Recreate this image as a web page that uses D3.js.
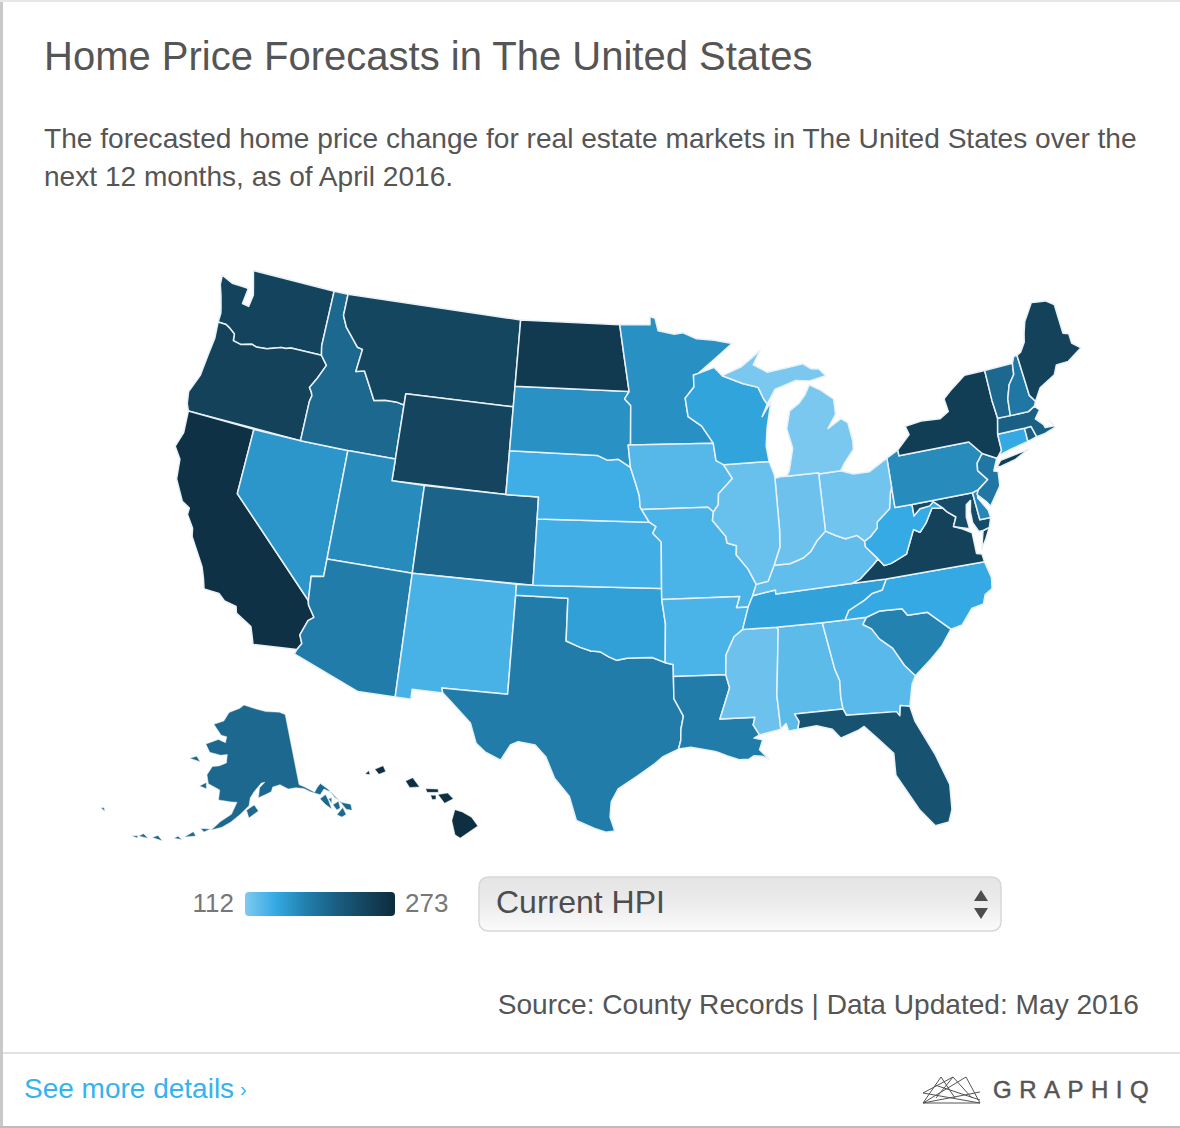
<!DOCTYPE html>
<html>
<head>
<meta charset="utf-8">
<script src="https://d3js.org/d3.v7.min.js"></script>
<style>
	html, body { margin: 0; padding: 0; background: #fff; }
	svg { display: block; }
	text { font-family: "Liberation Sans", Arial, sans-serif; }
</style>
</head>
<body>
<svg id="chart" width="1180" height="1128"></svg>
<script>
// outlines are [lon, lat] rings
var WA = [[[-124.7,48.38],[-123.9,48.16],[-123.1,48.15],[-122.75,48.14],[-122.85,47.4],[-122.4,47.35],[-122.3,47.9],[-122.5,48.4],[-122.76,49],[-117.03,49],[-117.04,46.42],[-116.92,46],[-118.98,46],[-119.3,45.93],[-119.6,45.92],[-120.5,45.7],[-121.2,45.65],[-121.5,45.72],[-122.2,45.57],[-122.75,45.65],[-122.8,45.95],[-123.2,46.15],[-123.5,46.26],[-124.05,46.27],[-124.05,46.7],[-124.15,46.95],[-124.4,47.5],[-124.65,47.95]]];
var OR = [[[-124.05,46.27],[-123.5,46.26],[-123.2,46.15],[-122.8,45.95],[-122.75,45.65],[-122.2,45.57],[-121.5,45.72],[-121.2,45.65],[-120.5,45.7],[-119.6,45.92],[-119.3,45.93],[-118.98,46],[-116.92,46],[-116.46,45.6],[-116.85,44.95],[-117.22,44.45],[-117.03,44.25],[-116.95,44.1],[-117.03,43.83],[-117.03,42],[-124.21,42],[-124.41,42.3],[-124.55,42.84],[-124.15,43.7],[-124.05,44.7],[-123.95,45.5]]];
var CA = [[[-124.21,42],[-120,42],[-120,39],[-114.63,35],[-114.57,34.8],[-114.14,34.3],[-114.43,34.1],[-114.72,33.4],[-114.52,33.03],[-114.72,32.72],[-117.12,32.53],[-117.25,32.85],[-117.45,33.3],[-118.4,33.75],[-118.5,34.03],[-119.2,34.15],[-119.6,34.42],[-120.47,34.45],[-120.65,34.9],[-120.9,35.4],[-121.9,36.6],[-122,36.96],[-122.5,37.5],[-122.5,37.8],[-123,38],[-123.7,38.9],[-123.85,39.8],[-124.35,40.3],[-124.1,41]]];
var NV = [[[-120,42],[-117.03,42],[-114.04,42],[-114.04,37],[-114.04,36.2],[-114.74,36.1],[-114.63,35],[-120,39]]];
var ID = [[[-117.03,49],[-116.05,49],[-116.05,48],[-115.7,47.5],[-114.7,46.7],[-114.35,46.65],[-114.5,45.6],[-113.95,45.7],[-113.45,45.05],[-113,44.45],[-112.3,44.55],[-111.5,44.55],[-111.05,44.48],[-111.05,42],[-114.04,42],[-117.03,42],[-117.03,43.83],[-116.95,44.1],[-117.03,44.25],[-117.22,44.45],[-116.85,44.95],[-116.46,45.6],[-116.92,46],[-117.04,46.42]]];
var MT = [[[-116.05,49],[-104.05,49],[-104.05,45.94],[-104.05,45],[-111.05,45],[-111.05,44.48],[-111.5,44.55],[-112.3,44.55],[-113,44.45],[-113.45,45.05],[-113.95,45.7],[-114.5,45.6],[-114.35,46.65],[-114.7,46.7],[-115.7,47.5],[-116.05,48]]];
var WY = [[[-111.05,45],[-104.05,45],[-104.05,43],[-104.05,41],[-111.05,41],[-111.05,42]]];
var UT = [[[-114.04,42],[-111.05,42],[-111.05,41],[-109.05,41],[-109.05,37],[-114.04,37]]];
var CO = [[[-109.05,41],[-104.05,41],[-102.05,41],[-102.05,40],[-102.05,37],[-109.05,37]]];
var AZ = [[[-114.74,36.1],[-114.04,36.2],[-114.04,37],[-109.05,37],[-109.05,31.33],[-111.07,31.33],[-114.81,32.5],[-114.72,32.72],[-114.52,33.03],[-114.72,33.4],[-114.43,34.1],[-114.14,34.3],[-114.57,34.8],[-114.63,35]]];
var NM = [[[-109.05,37],[-103,37],[-103,36.5],[-103.04,32],[-106.62,32],[-106.53,31.78],[-108.2,31.78],[-108.2,31.33],[-109.05,31.33]]];
var TX = [[[-103,36.5],[-100,36.5],[-100,34.56],[-99.2,34.3],[-98.6,34.15],[-98.1,34.13],[-97.6,33.9],[-97.15,33.75],[-96.6,33.85],[-95.9,33.87],[-95.2,33.88],[-94.48,33.64],[-94.04,33.55],[-94.04,33],[-94.04,32],[-93.55,31.2],[-93.7,30.6],[-93.72,30.1],[-93.85,29.7],[-94.7,29.35],[-95.1,29.05],[-96,28.5],[-97,27.9],[-97.35,27.3],[-97.4,26.6],[-97.15,25.96],[-97.6,25.9],[-98.2,26.07],[-99.1,26.4],[-99.5,27.5],[-100.3,28.3],[-100.8,29.25],[-101.4,29.77],[-102.3,29.88],[-102.7,29.7],[-103.15,28.98],[-104,29.3],[-104.5,29.65],[-104.9,30.55],[-106,31.4],[-106.53,31.78],[-106.62,32],[-103.04,32]]];
var OK = [[[-103,37],[-102.05,37],[-94.62,37],[-94.62,36.5],[-94.43,35.4],[-94.48,33.64],[-95.2,33.88],[-95.9,33.87],[-96.6,33.85],[-97.15,33.75],[-97.6,33.9],[-98.1,34.13],[-98.6,34.15],[-99.2,34.3],[-100,34.56],[-100,36.5],[-103,36.5]]];
var KS = [[[-102.05,40],[-95.3,40],[-94.9,39.8],[-95.1,39.5],[-94.6,39.1],[-94.62,37],[-102.05,37]]];
var NE = [[[-104.05,43],[-98.5,43],[-97.9,42.8],[-97.2,42.85],[-96.45,42.49],[-96.1,41.7],[-95.9,41.2],[-95.85,40.7],[-95.77,40.58],[-95.3,40],[-102.05,40],[-102.05,41],[-104.05,41]]];
var SD = [[[-104.05,45.94],[-96.56,45.94],[-96.85,45.6],[-96.45,45.3],[-96.45,43.5],[-96.6,43.5],[-96.45,42.49],[-97.2,42.85],[-97.9,42.8],[-98.5,43],[-104.05,43]]];
var ND = [[[-104.05,49],[-97.23,49],[-96.9,47.5],[-96.56,45.94],[-104.05,45.94]]];
var MN = [[[-97.23,49],[-95.15,49],[-95.15,49.38],[-94.8,49.3],[-94.6,48.72],[-93.5,48.55],[-92.9,48.6],[-92,48.3],[-90.8,48.2],[-89.6,48],[-90.9,47.3],[-92,46.7],[-92.3,46.65],[-92.3,46.1],[-92.9,45.6],[-92.75,44.75],[-91.9,44.3],[-91.22,43.5],[-96.45,43.5],[-96.45,45.3],[-96.85,45.6],[-96.56,45.94],[-96.9,47.5]]];
var IA = [[[-96.45,43.5],[-91.22,43.5],[-91.1,42.7],[-90.65,42.5],[-90.15,41.85],[-91.05,41.2],[-91.1,40.7],[-91.42,40.38],[-91.73,40.61],[-95.77,40.58],[-95.85,40.7],[-95.9,41.2],[-96.1,41.7],[-96.45,42.49],[-96.6,43.5]]];
var MO = [[[-95.77,40.58],[-91.73,40.61],[-91.42,40.38],[-91.5,40],[-90.75,39.25],[-90.7,38.95],[-90.15,38.8],[-90.2,38.4],[-89.55,37.7],[-89.15,37],[-89.4,36.5],[-89.7,36],[-90.37,36],[-90.15,36.5],[-94.62,36.5],[-94.62,37],[-94.6,39.1],[-95.1,39.5],[-94.9,39.8],[-95.3,40]]];
var AR = [[[-94.62,36.5],[-90.15,36.5],[-90.37,36],[-89.7,36],[-90.1,35],[-90.6,34.7],[-91.1,33.9],[-91.17,33],[-94.04,33],[-94.04,33.55],[-94.48,33.64],[-94.43,35.4]]];
var LA = [[[-94.04,33],[-91.17,33],[-91,32.4],[-91.6,31],[-89.73,31],[-89.85,30.65],[-89.55,30.18],[-89.85,30.05],[-89.4,29.95],[-89.6,29.5],[-89.15,29.05],[-89.5,29.2],[-89.9,29.25],[-90.2,29.1],[-90.7,29.1],[-91.3,29.3],[-91.8,29.5],[-92,29.55],[-93.2,29.77],[-93.85,29.7],[-93.72,30.1],[-93.7,30.6],[-93.55,31.2],[-94.04,32]]];
var MS = [[[-90.1,35],[-88.2,35],[-88.1,34.9],[-88.47,31.9],[-88.4,30.37],[-89.55,30.18],[-89.85,30.65],[-89.73,31],[-91.6,31],[-91,32.4],[-91.17,33],[-91.1,33.9],[-90.6,34.7]]];
var AL = [[[-88.2,35],[-85.6,35],[-85.2,32.85],[-85,32.3],[-85.05,31.55],[-85,31],[-87.6,31],[-87.4,30.65],[-87.5,30.3],[-88,30.25],[-88.1,30.6],[-88.4,30.37],[-88.47,31.9],[-88.1,34.9]]];
var GA = [[[-85.6,35],[-84.32,35],[-83.1,35],[-83.35,34.7],[-82.9,34.45],[-82.55,33.95],[-81.9,33.45],[-81.4,32.6],[-80.9,32.05],[-81.15,31.7],[-81.45,30.72],[-81.95,30.82],[-82.05,30.36],[-82.2,30.57],[-84.86,30.7],[-85,31],[-85.05,31.55],[-85,32.3],[-85.2,32.85]]];
var FL = [[[-87.6,31],[-85,31],[-84.86,30.7],[-82.2,30.57],[-82.05,30.36],[-81.95,30.82],[-81.45,30.72],[-81.3,30],[-80.55,28.4],[-80.05,26.9],[-80.15,25.75],[-80.4,25.2],[-81.1,25.13],[-81.75,25.95],[-82.15,26.7],[-82.7,27.7],[-82.65,28.7],[-83.4,29.5],[-84,30.1],[-84.35,29.95],[-85.3,29.7],[-85.7,30.15],[-86.5,30.38],[-87.5,30.3],[-87.4,30.65]]];
var SC = [[[-83.35,34.7],[-83.1,35],[-82.3,35.2],[-81.05,35.15],[-80.8,34.82],[-79.67,34.8],[-78.55,33.86],[-79.2,33.2],[-79.9,32.7],[-80.9,32.05],[-81.4,32.6],[-81.9,33.45],[-82.55,33.95],[-82.9,34.45]]];
var NC = [[[-84.32,35],[-83.1,35],[-82.3,35.2],[-81.05,35.15],[-80.8,34.82],[-79.67,34.8],[-78.55,33.86],[-77.9,33.95],[-77.2,34.6],[-76.5,34.7],[-76.3,35.1],[-75.85,35.3],[-75.75,35.8],[-75.95,36.55],[-81.68,36.59],[-82,36.12],[-82.6,36.03],[-83.1,35.77],[-84.05,35.4]]];
var TN = [[[-90.1,35],[-88.2,35],[-85.6,35],[-84.32,35],[-84.05,35.4],[-83.1,35.77],[-82.6,36.03],[-82,36.12],[-81.68,36.59],[-83.68,36.6],[-88.07,36.5],[-88.07,36.68],[-89.4,36.5],[-89.7,36]]];
var KY = [[[-89.4,36.5],[-88.07,36.68],[-88.07,36.5],[-83.68,36.6],[-83.15,36.75],[-82.3,37.3],[-81.97,37.54],[-82.6,38.17],[-82.6,38.42],[-83,38.73],[-83.7,38.65],[-84.25,38.85],[-84.82,39.1],[-85.4,38.7],[-85.8,38.27],[-86.3,38],[-87.1,37.8],[-88.03,37.8],[-88.45,37.1],[-89.15,37]]];
var VA = [[[-83.68,36.6],[-81.68,36.59],[-75.95,36.55],[-76,36.92],[-76.3,37],[-76.3,37.55],[-76.3,37.95],[-76.9,38.25],[-77.3,38.4],[-77.05,38.8],[-77.5,39.1],[-77.72,39.32],[-78.35,39.4],[-78.87,38.77],[-79.3,38.42],[-79.65,38.6],[-80.3,37.55],[-81.25,37.25],[-81.68,37.2],[-81.97,37.54],[-82.3,37.3],[-83.15,36.75]],
	[[-75.95,37.15],[-75.65,37.95],[-75.25,38.03],[-75.6,37.55]]];
var WV = [[[-82.6,38.17],[-81.97,37.54],[-81.68,37.2],[-81.25,37.25],[-80.3,37.55],[-79.65,38.6],[-79.3,38.42],[-78.87,38.77],[-78.35,39.4],[-77.72,39.32],[-78.2,39.68],[-78.45,39.52],[-79.06,39.47],[-79.48,39.2],[-79.48,39.72],[-80.52,39.72],[-80.52,40.64],[-80.65,40.4],[-80.85,39.7],[-81.7,39.2],[-81.75,38.93],[-82.2,38.6],[-82.6,38.42]]];
var MD = [[[-79.48,39.72],[-75.79,39.72],[-75.7,38.46],[-75.05,38.45],[-75.25,38.03],[-75.65,37.95],[-75.9,37.95],[-76.15,38.4],[-76.15,38.9],[-76,39.4],[-76.3,39.25],[-76.45,38.7],[-76.4,38.15],[-76.95,38.3],[-77.3,38.4],[-77.05,38.8],[-77.5,39.1],[-77.72,39.32],[-78.2,39.68],[-78.45,39.52],[-79.06,39.47],[-79.48,39.2]]];
var DE = [[[-75.79,39.72],[-75.4,39.8],[-75.55,39.45],[-75.1,38.8],[-75.05,38.45],[-75.7,38.46]]];
var PA = [[[-80.52,41.98],[-79.76,42.27],[-79.76,42],[-75.35,42],[-74.7,41.36],[-75.13,40.98],[-75.2,40.65],[-74.72,40.15],[-75.4,39.8],[-75.79,39.72],[-79.48,39.72],[-80.52,39.72],[-80.52,40.64]]];
var NJ = [[[-74.7,41.36],[-73.9,41],[-74.25,40.47],[-74,40.4],[-74.1,39.75],[-74.9,38.95],[-75.1,39.2],[-75.55,39.6],[-75.4,39.8],[-74.72,40.15],[-75.2,40.65],[-75.13,40.98]]];
var NY = [[[-79.76,42.27],[-79.76,42],[-75.35,42],[-74.7,41.36],[-73.9,41],[-73.73,41.1],[-73.5,41.3],[-73.5,42.05],[-73.27,42.75],[-73.35,43.6],[-73.35,45],[-74.7,45],[-75.8,44.45],[-76.3,44.15],[-76.2,43.55],[-76.8,43.3],[-78,43.37],[-79.05,43.27],[-78.9,42.87]],
	[[-74.03,40.6],[-73.75,40.6],[-72.8,40.75],[-71.9,41.05],[-72.6,40.98],[-73.7,40.87]]];
var CT = [[[-73.73,41.1],[-73.5,41.3],[-73.5,42.05],[-71.8,42.02],[-71.8,41.4],[-72.9,41.25]]];
var RI = [[[-71.8,42.02],[-71.38,42.02],[-71.2,41.5],[-71.8,41.4]]];
var MA = [[[-73.5,42.05],[-73.27,42.75],[-72.46,42.73],[-71.3,42.7],[-70.85,42.87],[-70.6,42.65],[-71,42.3],[-70.6,41.95],[-70.55,41.8],[-70,41.78],[-70.2,42.07],[-69.95,41.7],[-70.65,41.55],[-71.2,41.5],[-71.38,42.02],[-71.8,42.02]]];
var VT = [[[-73.35,45],[-71.5,45.01],[-71.6,44.5],[-72.05,44.1],[-72.35,43.5],[-72.46,42.73],[-73.27,42.75],[-73.35,43.6]]];
var NH = [[[-71.5,45.01],[-71.3,45.3],[-71.08,45.3],[-70.98,43.4],[-70.7,43.07],[-70.85,42.87],[-71.3,42.7],[-72.46,42.73],[-72.35,43.5],[-72.05,44.1],[-71.6,44.5]]];
var ME = [[[-71.08,45.3],[-70.8,45.4],[-70.4,45.8],[-70.25,46.2],[-70,46.7],[-69.23,47.46],[-69,47.43],[-68.3,47.35],[-67.8,47.07],[-67.8,45.7],[-67.45,45.6],[-67.45,45.15],[-66.97,44.82],[-68,44.4],[-68.8,44.4],[-69.1,44],[-70.2,43.6],[-70.7,43.07],[-70.98,43.4]]];
var OH = [[[-84.82,41.7],[-83.45,41.73],[-82.7,41.5],[-81.7,41.5],[-80.52,41.98],[-80.52,40.64],[-80.65,40.4],[-80.85,39.7],[-81.7,39.2],[-81.75,38.93],[-82.2,38.6],[-82.6,38.42],[-83,38.73],[-83.7,38.65],[-84.25,38.85],[-84.82,39.1]]];
var IN = [[[-87.53,41.71],[-87.2,41.76],[-86.8,41.76],[-84.82,41.76],[-84.82,39.1],[-85.4,38.7],[-85.8,38.27],[-86.3,38],[-87.1,37.8],[-88.03,37.8],[-87.6,38.6],[-87.53,39.35]]];
var IL = [[[-90.65,42.5],[-87.8,42.5],[-87.55,41.9],[-87.53,41.71],[-87.53,39.35],[-87.6,38.6],[-88.03,37.8],[-88.45,37.1],[-89.15,37],[-89.55,37.7],[-90.2,38.4],[-90.15,38.8],[-90.7,38.95],[-90.75,39.25],[-91.5,40],[-91.42,40.38],[-91.1,40.7],[-91.05,41.2],[-90.15,41.85]]];
var WI = [[[-92,46.7],[-90.9,46.95],[-90.4,46.55],[-89.1,46.13],[-88.1,45.9],[-87.8,45.35],[-87.6,45.1],[-88,44.55],[-87.35,45.2],[-87.75,44],[-87.9,43.2],[-87.8,42.5],[-90.65,42.5],[-91.1,42.7],[-91.22,43.5],[-91.9,44.3],[-92.75,44.75],[-92.9,45.6],[-92.3,46.1],[-92.3,46.65]]];
var MI = [[[-86.8,41.76],[-84.82,41.76],[-84.82,41.7],[-83.45,41.73],[-83.15,42.05],[-82.5,42.6],[-82.45,43],[-82.6,43.85],[-83,44.07],[-83.9,43.7],[-83.3,44.3],[-83.3,45],[-84.1,45.5],[-84.75,45.78],[-85.1,45.35],[-85.55,45],[-86.2,44.7],[-86.5,43.9],[-86.25,43],[-86.6,42]],
	[[-90.4,46.55],[-89.1,46.9],[-88.4,47.25],[-87.75,47.6],[-88.3,46.95],[-87.4,46.55],[-86.1,46.67],[-85,46.77],[-84.5,46.5],[-84,46.45],[-83.6,46.1],[-84.7,45.95],[-85.6,46.05],[-86.5,45.85],[-87,45.75],[-87.6,45.1],[-87.8,45.35],[-88.1,45.9],[-89.1,46.13]]];
var AK = [[[-141,69.65],[-141,60.3],[-139.8,59.9],[-137.5,58.9],[-136.5,59.45],[-135.5,59.8],[-134,58.8],[-133,57.5],[-131.8,56.6],[-130,56],[-130.2,55.2],[-131.4,55.6],[-132.3,57],[-133.5,58.3],[-135,59],[-136.3,58.4],[-138.5,59.1],[-140,59.7],[-142,60],[-144,60],[-146,60.7],[-148,60.5],[-148.5,59.9],[-150,59.6],[-151.9,59.2],[-151.5,60.5],[-150,61.2],[-151,61.1],[-153,60],[-154,59.2],[-154.3,58.2],[-156.5,57],[-158.5,56],[-160.5,55.2],[-162.8,54.7],[-161,55.9],[-158.5,57],[-157.3,58.6],[-158.7,58.6],[-162,58.7],[-162,60],[-165.2,60.6],[-166,61.7],[-164.9,62.9],[-163,63.1],[-161,63.6],[-161,64.7],[-163,64.5],[-166.4,64.65],[-168.1,65.6],[-164.4,66.5],[-162,66.2],[-161.8,67],[-163.7,67.1],[-166.8,68.35],[-163.5,69],[-162,70.2],[-158,70.9],[-156.5,71.35],[-152,70.85],[-148,70.4],[-143,70.1]],
	[[-154.3,56.6],[-152,57.5],[-153,58.3],[-154.9,57.6]],
	[[-171.8,63.3],[-168.6,63.2],[-170,63.8]],
	[[-167.4,60.1],[-165.5,59.9],[-165.8,60.7]],
	[[-136.6,57.9],[-135,58.25],[-134.7,57.3],[-134.6,56.2],[-135.7,57]],
	[[-134.6,57.6],[-133.8,57.6],[-134.2,56.9]],
	[[-134,56.7],[-132.5,56.9],[-132.6,56],[-133.5,55.9]],
	[[-133.8,55.3],[-132,55.95],[-131.8,54.95],[-132.9,54.8]],
	[[-168.4,53.2],[-166,53.6],[-166.7,54.1]],
	[[-165.2,54.7],[-163,54.8],[-164.4,54.3]],
	[[-170.5,52.7],[-168.8,52.8],[-169.8,53.1]],
	[[-175,52],[-172.8,52],[-174,52.5]],
	[[-177.8,51.6],[-175.8,51.75],[-177,52.1]],
	[[-179.2,51.3],[-178,51.6],[-177.9,51.3]],
	[[172.4,52.9],[173.5,52.75],[173,53.1]]];
var HI = [[[-155.9,20.25],[-155.55,20.15],[-155.1,19.9],[-154.8,19.5],[-155.65,18.95],[-155.9,19.1],[-156.05,19.75]],
	[[-156.72,20.95],[-156.25,21.02],[-155.98,20.75],[-156.4,20.55]],
	[[-158.3,21.57],[-157.95,21.72],[-157.62,21.3],[-158.1,21.27]],
	[[-159.8,22.1],[-159.4,22.26],[-159.27,22],[-159.6,21.87]],
	[[-157.32,21.22],[-156.72,21.2],[-156.7,21.05],[-157.25,21.05]],
	[[-157.08,20.92],[-156.82,20.92],[-156.82,20.73],[-157,20.72]],
	[[-160.27,21.88],[-160.1,22.03],[-160.03,21.85]]];

var stateNames = ["WA","OR","CA","NV","ID","MT","WY","UT","CO","AZ","NM","TX","OK","KS","NE","SD","ND","MN","IA","MO","AR","LA","MS","AL","GA","FL","SC","NC","TN","KY","VA","WV","MD","DE","PA","NJ","NY","CT","RI","MA","VT","NH","ME","OH","IN","IL","WI","MI","AK","HI"];
var stateShapes = [WA,OR,CA,NV,ID,MT,WY,UT,CO,AZ,NM,TX,OK,KS,NE,SD,ND,MN,IA,MO,AR,LA,MS,AL,GA,FL,SC,NC,TN,KY,VA,WV,MD,DE,PA,NJ,NY,CT,RI,MA,VT,NH,ME,OH,IN,IL,WI,MI,AK,HI];
var stateValues = [243,245,265,160,200,240,242,168,205,180,136,180,152,139,140,163,255,164,130,135,135,180,120,127,129,225,175,145,150,125,245,144,232,170,168,185,250,145,210,208,200,185,245,118,120,122,149,114,200,268];

var legendMin = 112;
var legendMax = 273;
var rampStops = [0, 0.2, 0.4, 0.6, 0.8, 1];
var rampColors = ["#7fcaf0", "#35aae4", "#2280ae", "#1a5f84", "#14455f", "#0d2b3c"];

var color = d3.scaleLinear()
	.domain(rampStops.map(function(t) { return legendMin + t * (legendMax - legendMin); }))
	.range(rampColors);

var svg = d3.select("#chart");
var defs = svg.append("defs");

// card edges
svg.append("rect").attr("x", 0).attr("y", 0).attr("width", 3).attr("height", 1128).attr("fill", "#c9c9c9");
svg.append("rect").attr("x", 0).attr("y", 0).attr("width", 1180).attr("height", 2).attr("fill", "#e6e6e6");
svg.append("rect").attr("x", 0).attr("y", 1126).attr("width", 1180).attr("height", 2).attr("fill", "#bdbdbd");
svg.append("rect").attr("x", 3).attr("y", 1052).attr("width", 1177).attr("height", 2).attr("fill", "#e2e2e2");

svg.append("text").attr("x", 44).attr("y", 70).attr("font-size", 40).attr("fill", "#555").text("Home Price Forecasts in The United States");
svg.append("text").attr("x", 44).attr("y", 148).attr("font-size", 28.1).attr("fill", "#555").text("The forecasted home price change for real estate markets in The United States over the");
svg.append("text").attr("x", 44).attr("y", 186).attr("font-size", 28.1).attr("fill", "#555").text("next 12 months, as of April 2016.");

// Ring direction matters for d3.geo, flip the ones that came out inside-out
function fixRing(ring) {
	var closed = ring.concat([ring[0]]);
	var area = d3.geoArea({type: "Polygon", coordinates: [closed]});
	return area > 2 * Math.PI ? closed.reverse() : closed;
}

var features = stateNames.map(function(name, i) {
	return {
		type: "Feature",
		id: name,
		properties: {value: stateValues[i]},
		geometry: {type: "MultiPolygon", coordinates: stateShapes[i].map(function(r) { return [fixRing(r)]; })}
	};
});

var projection = d3.geoAlbersUsa().scale(1255).translate([627.5, 551]);
var path = d3.geoPath().projection(projection);

svg.append("g")
	.selectAll("path")
	.data(features)
	.enter()
	.append("path")
	.attr("d", path)
	.attr("fill", function(d) { return color(d.properties.value); })
	.attr("stroke", "#e8f1f6")
	.attr("stroke-width", function(d) { return d.id == "AK" || d.id == "HI" ? 0.5 : 1.5; })
	.attr("stroke-linejoin", "round");

// legend
var grad = defs.append("linearGradient").attr("id", "ramp");
grad.selectAll("stop")
	.data(rampStops)
	.enter()
	.append("stop")
	.attr("offset", function(d) { return d; })
	.attr("stop-color", function(d, i) { return rampColors[i]; });

var legendX = d3.scaleLinear().domain([legendMin, legendMax]).range([245, 395]);
svg.append("rect")
	.attr("x", legendX(legendMin)).attr("y", 892)
	.attr("width", legendX(legendMax) - legendX(legendMin)).attr("height", 24)
	.attr("rx", 4).attr("fill", "url(#ramp)");
svg.append("text").attr("x", 234).attr("y", 912).attr("text-anchor", "end").attr("font-size", 26).attr("fill", "#777").text(legendMin);
svg.append("text").attr("x", 405).attr("y", 912).attr("font-size", 26).attr("fill", "#777").text(legendMax);

// select box
var selGrad = defs.append("linearGradient").attr("id", "sel").attr("x1", 0).attr("x2", 0).attr("y1", 0).attr("y2", 1);
selGrad.append("stop").attr("offset", 0).attr("stop-color", "#e4e4e4");
selGrad.append("stop").attr("offset", 0.45).attr("stop-color", "#ebebeb");
selGrad.append("stop").attr("offset", 1).attr("stop-color", "#fbfbfb");
svg.append("rect").attr("x", 479).attr("y", 877).attr("width", 522).attr("height", 54).attr("rx", 9)
	.attr("fill", "url(#sel)").attr("stroke", "#d8d8d8").attr("stroke-width", 1.5);
svg.append("text").attr("x", 496).attr("y", 913).attr("font-size", 32).attr("fill", "#4d4d4d").text("Current HPI");
svg.append("path").attr("d", "M981,890l7,11h-14zM981,919l7,-11h-14z").attr("fill", "#4d4d4d");

svg.append("text").attr("x", 1139).attr("y", 1014).attr("text-anchor", "end").attr("font-size", 28.1).attr("fill", "#555").text("Source: County Records | Data Updated: May 2016");
svg.append("text").attr("x", 24).attr("y", 1098).attr("font-size", 28).attr("fill", "#35b3f0").text("See more details");
svg.append("text").attr("x", 240).attr("y", 1096).attr("font-size", 20).attr("fill", "#35b3f0").text("›");

// logo mark
var logoLines = [[923,1103,941,1077],[941,1077,955,1098],[923,1103,980,1092],[923,1103,966,1077],[966,1077,980,1103],[980,1103,923,1093],[923,1093,953,1077],[953,1077,972,1098],[923,1103,980,1103],[935,1085,980,1100],[953,1077,936,1098]];
svg.append("g")
	.selectAll("line")
	.data(logoLines)
	.enter()
	.append("line")
	.attr("x1", function(d) { return d[0]; })
	.attr("y1", function(d) { return d[1]; })
	.attr("x2", function(d) { return d[2]; })
	.attr("y2", function(d) { return d[3]; })
	.attr("stroke", "#555")
	.attr("stroke-width", 1);
svg.append("text").attr("x", 993).attr("y", 1098).attr("font-size", 24).attr("letter-spacing", 7.5).attr("fill", "#555").attr("stroke", "#555").attr("stroke-width", 0.5).text("GRAPHIQ");
</script>
</body>
</html>
